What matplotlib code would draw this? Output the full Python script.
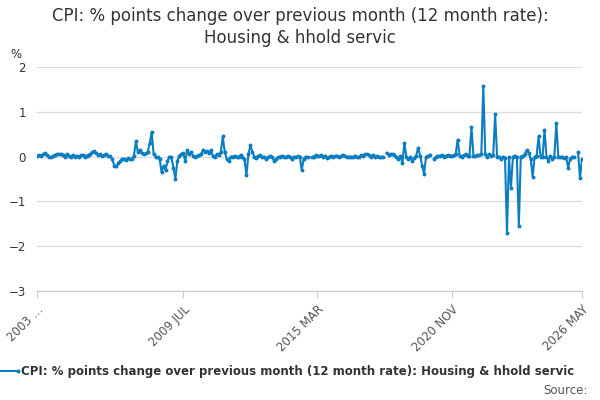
import numpy as np
import matplotlib
matplotlib.use("Agg")
import matplotlib.pyplot as plt

nan = np.nan
values = [
0.02,0.03,0.01,0.05,0.08,0.03,0.0,-0.02,0.02,0.04,0.06,0.05,0.05,0.03,0.0,0.06,0.02,0.0,0.03,0.0,
0.02,-0.02,0.03,0.03,0.0,0.02,0.04,0.06,0.1,0.12,0.07,0.03,0.05,0.02,0.04,0.05,0.02,0.01,-0.05,-0.2,
-0.22,-0.15,-0.1,-0.05,-0.06,-0.08,-0.04,-0.05,-0.06,0.02,0.35,0.1,0.15,0.08,0.06,0.07,0.1,0.3,0.55,0.05,
0.0,-0.02,-0.05,-0.35,-0.2,-0.3,-0.1,0.0,-0.02,-0.25,-0.5,-0.1,0.02,0.05,0.08,-0.1,0.15,0.05,0.1,0.02,
0.0,0.02,0.03,0.05,0.15,0.1,0.12,0.08,0.14,0.02,0.0,0.05,0.03,0.1,0.45,0.1,-0.05,-0.1,0.0,0.0,
0.02,-0.02,0.0,0.03,0.0,-0.05,-0.42,0.05,0.25,0.1,0.0,-0.03,0.02,0.03,-0.02,0.0,-0.05,-0.02,0.02,0.0,
-0.1,-0.05,-0.02,0.0,0.02,0.0,-0.02,0.02,0.0,-0.05,0.0,-0.02,0.01,0.0,-0.3,-0.05,0.0,-0.02,nan,-0.02,
0.0,0.03,0.02,0.01,0.03,0.0,0.02,-0.03,0.0,0.02,0.0,0.01,0.02,-0.02,0.02,0.04,0.01,-0.01,0.0,0.0,
-0.02,0.02,0.0,-0.02,0.03,0.02,0.05,0.06,0.03,0.0,0.03,0.0,0.01,0.0,-0.02,0.0,nan,0.08,0.04,0.05,
0.05,0.03,0.0,-0.05,0.02,-0.15,0.3,0.0,-0.05,-0.02,-0.1,-0.03,0.02,0.2,0.02,-0.2,-0.38,0.0,0.02,0.04,
nan,-0.05,0.0,0.02,0.01,0.03,0.0,0.02,0.03,0.02,0.02,0.03,0.05,0.38,0.02,0.0,0.03,0.05,0.01,0.02,
0.65,0.02,0.01,0.04,0.03,0.05,1.58,0.05,0.0,0.05,0.02,0.03,0.95,-0.02,0.0,-0.05,0.0,-0.03,-1.7,-0.02,
-0.7,0.0,0.02,-0.02,-1.55,0.0,0.02,0.05,0.15,0.08,-0.05,-0.45,0.0,0.02,0.45,0.0,-0.02,0.6,0.0,-0.1,
0.02,-0.05,0.0,0.75,0.0,-0.02,0.0,-0.03,-0.02,-0.25,-0.05,0.0,-0.02,nan,0.1,-0.48,-0.05,
]
tick_pos = [0, 74, 142, 210, 276]
tick_labels = ["2003 …", "2009 JUL", "2015 MAR", "2020 NOV", "2026 MAY"]
yticks = [-3, -2, -1, 0, 1, 2]
series_name = "CPI: % points change over previous month (12 month rate): Housing & hhold servic"

color = "#0b7dc1"
fig = plt.figure(figsize=(6, 4), dpi=100)
ax = fig.add_axes([0.062, 0.2725, 0.908, 0.56])
x = np.arange(len(values))
ax.plot(x, values, color=color, lw=1.5, marker="o", ms=1.8)
ax.set_ylim(-3, 2)
ax.set_xlim(0, len(values) - 1)
ax.set_yticks(yticks)
ax.set_xticks(tick_pos)
ax.set_xticklabels(tick_labels, rotation=45, ha="right", rotation_mode="anchor", color="#555555", fontsize=8.5)
ax.tick_params(axis="y", length=0, labelsize=8.5, labelcolor="#333333", pad=8)
ax.tick_params(axis="x", length=5, color="#cccccc")
ax.grid(axis="y", color="#dddddd", lw=1)
for s in ["top", "right", "left"]:
    ax.spines[s].set_visible(False)
ax.spines["bottom"].set_color("#cccccc")
ax.set_axisbelow(True)
fig.text(0.5, 0.982, "CPI: % points change over previous month (12 month rate):\nHousing & hhold servic",
         ha="center", va="top", fontsize=12, color="#333333", linespacing=1.25)
fig.text(0.017, 0.855, "%", fontsize=8.5, color="#333333")
fig.lines.append(plt.Line2D([-0.002, 0.03], [0.0725, 0.0725], transform=fig.transFigure, color=color, lw=1.5,
                            marker="o", ms=1.8, markevery=[1]))
fig.text(0.035, 0.0725, series_name, fontsize=8.5, fontweight="bold", color="#333333", va="center")
fig.text(0.98, 0.025, "Source:", fontsize=8.5, color="#555555", ha="right", va="center")
fig.savefig("out.png", dpi=100)
